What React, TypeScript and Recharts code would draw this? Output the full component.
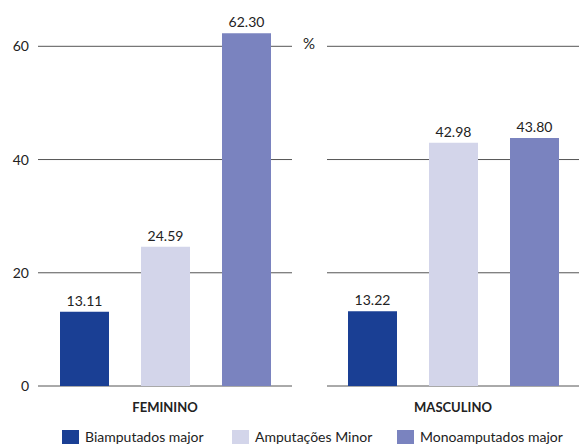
import { BarChart, Bar, XAxis, YAxis, CartesianGrid, LabelList } from "recharts";

const groups = ["FEMININO", "MASCULINO"];
const seriesNames = ["Biamputados major", "Amputações Minor", "Monoamputados major"];
const biamputados = [13.11, 13.22];
const minor = [24.59, 42.98];
const mono = [62.3, 43.8];
const yTicks = [0, 20, 40, 60];

const COLORS = ["#1a3f94", "#d3d5ea", "#7a83bf"];
const FONT = "Lato, 'Open Sans', sans-serif";
const INK = "#222";

const keys = ["bi", "minor", "mono"];

function rowFor(i: number) {
  return { group: groups[i], bi: biamputados[i], minor: minor[i], mono: mono[i] };
}

function Panel({ index, width, left, showAxis }: { index: number; width: number; left: number; showAxis: boolean }) {
  const data = [rowFor(index)];
  return (
    <BarChart
      width={width}
      height={420}
      data={data}
      margin={{ top: 18, right: 0, bottom: 0, left: left }}
      barSize={49}
      barGap={32}
      style={{ fontFamily: FONT }}
    >
      <CartesianGrid vertical={false} stroke="#555" strokeWidth={1} syncWithTicks />
      <XAxis
        dataKey="group"
        axisLine={false}
        tickLine={false}
        tickSize={0}
        tickMargin={17}
        height={34}
        tick={{ fill: INK, fontSize: 13, fontWeight: 700 }}
      />
      <YAxis
        hide={!showAxis}
        domain={[0, 65]}
        ticks={yTicks}
        axisLine={false}
        tickLine={false}
        tickSize={0}
        tickMargin={9}
        width={38}
        tick={{ fill: INK, fontSize: 14 }}
      />
      {keys.map((k, i) => (
        <Bar key={k} dataKey={k} name={seriesNames[i]} fill={COLORS[i]} isAnimationActive={false}>
          <LabelList
            dataKey={k}
            position="top"
            offset={6}
            formatter={(v: any) => Number(v).toFixed(2)}
            style={{ fill: INK, fontSize: 14 }}
          />
        </Bar>
      ))}
    </BarChart>
  );
}

export default function App() {
  return (
    <div style={{ position: "absolute", left: 0, top: 0, width: 579, height: 446, background: "#fff", fontFamily: FONT }}>
      <div style={{ position: "absolute", left: 0, top: 0 }}>
        <Panel index={0} width={292} left={0} showAxis={true} />
      </div>
      <div style={{ position: "absolute", left: 292, top: 0 }}>
        <Panel index={1} width={287} left={35} showAxis={false} />
      </div>
      <div style={{ position: "absolute", left: 303, top: 34, fontSize: 15, color: INK }}>%</div>
      <div style={{ position: "absolute", left: 62, top: 428, display: "flex", alignItems: "center", fontSize: 14, color: INK }}>
        {seriesNames.map((n, i) => (
          <div key={n} style={{ display: "flex", alignItems: "center", width: i === 0 ? 170 : i === 1 ? 165 : 180 }}>
            <span style={{ width: 17, height: 14, background: COLORS[i], display: "inline-block", marginRight: 6 }} />
            <span>{n}</span>
          </div>
        ))}
      </div>
    </div>
  );
}
